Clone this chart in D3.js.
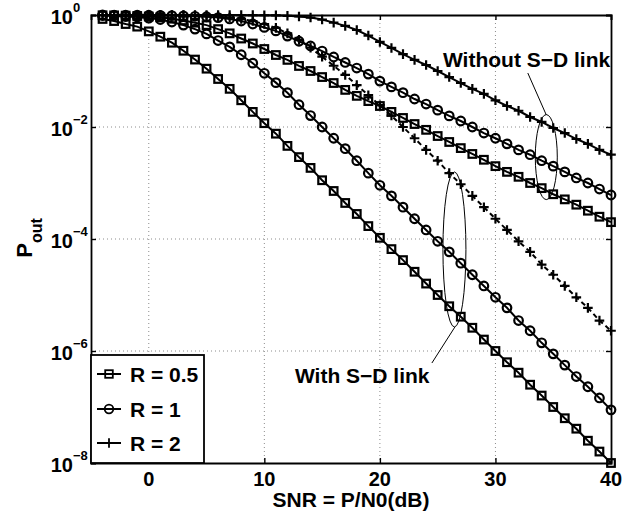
<!DOCTYPE html>
<html>
<head>
<meta charset="utf-8">
<script src="https://cdn.jsdelivr.net/npm/d3@7"></script>
<style>
  body { margin: 0; background: #fff; }
  svg text { font-family: "Liberation Sans", Arial, Helvetica, sans-serif; font-weight: bold; fill: #000; }
</style>
</head>
<body>
<svg></svg>
<script>
// SNR points (dB), one marker per dB
let snrDb = [-4, -3, -2, -1, 0, 1, 2, 3, 4, 5, 6, 7, 8, 9, 10, 11, 12, 13, 14, 15, 16, 17, 18, 19, 20,
    21, 22, 23, 24, 25, 26, 27, 28, 29, 30, 31, 32, 33, 34, 35, 36, 37, 38, 39, 40]

// outage probability, without S-D link (solid)
let noLinkR05 = [0.99, 0.985, 0.975, 0.96, 0.94, 0.91, 0.86, 0.80, 0.73, 0.66, 0.56, 0.47, 0.38, 0.31, 0.247,
    0.193, 0.158, 0.123, 0.100, 0.078, 0.061, 0.046, 0.036, 0.029, 0.0237, 0.0186, 0.0145, 0.0113, 8.9e-3,
    6.9e-3, 5.4e-3, 4.2e-3, 3.3e-3, 2.6e-3, 2.0e-3, 1.58e-3, 1.29e-3, 1.0e-3, 8.1e-4, 6.3e-4, 5.1e-4,
    4.1e-4, 3.2e-4, 2.5e-4, 2.0e-4]
let noLinkR1 = [0.999, 0.998, 0.997, 0.996, 0.992, 0.985, 0.975, 0.962, 0.948, 0.93, 0.90, 0.85, 0.78, 0.69,
    0.60, 0.52, 0.42, 0.34, 0.28, 0.227, 0.178, 0.142, 0.113, 0.088, 0.066, 0.052, 0.041, 0.0316, 0.0257,
    0.020, 0.0158, 0.0128, 0.010, 7.8e-3, 6.3e-3, 5.0e-3, 3.9e-3, 3.2e-3, 2.5e-3, 2.0e-3, 1.58e-3, 1.23e-3,
    1.0e-3, 7.8e-4, 6.1e-4]
let noLinkR2 = [1.0, 1.0, 1.0, 1.0, 1.0, 1.0, 1.0, 1.0, 1.0, 0.999, 0.999, 0.998, 0.996, 0.993, 0.99, 0.985,
    0.968, 0.94, 0.90, 0.83, 0.73, 0.64, 0.54, 0.43, 0.33, 0.258, 0.20, 0.158, 0.128, 0.100, 0.078, 0.061,
    0.048, 0.039, 0.030, 0.0237, 0.0195, 0.0151, 0.0123, 9.6e-3, 7.8e-3, 6.1e-3, 5.0e-3, 3.9e-3, 3.2e-3]

// outage probability, with S-D link
let linkR05 = [0.85, 0.78, 0.69, 0.62, 0.51, 0.41, 0.32, 0.23, 0.16, 0.11, 0.072, 0.048, 0.030, 0.0186, 0.0117,
    7.6e-3, 4.6e-3, 2.9e-3, 1.86e-3, 1.12e-3, 7.2e-4, 4.4e-4, 2.8e-4, 1.7e-4, 1.05e-4, 6.6e-5, 4.2e-5, 2.6e-5,
    1.6e-5, 1.0e-5, 6.3e-6, 4.1e-6, 2.6e-6, 1.6e-6, 1.0e-6, 6.3e-7, 4.1e-7, 2.5e-7, 1.6e-7, 1.0e-7, 6.3e-8,
    4.1e-8, 2.5e-8, 1.6e-8, 1.0e-8]
let linkR1 = [0.98, 0.97, 0.94, 0.92, 0.88, 0.83, 0.75, 0.66, 0.56, 0.46, 0.35, 0.27, 0.195, 0.138, 0.091, 0.062,
    0.041, 0.025, 0.016, 0.010, 6.3e-3, 4.1e-3, 2.5e-3, 1.5e-3, 9.1e-4, 5.9e-4, 3.7e-4, 2.3e-4, 1.45e-4, 9.1e-5,
    5.9e-5, 3.7e-5, 2.3e-5, 1.45e-5, 9.1e-6, 5.9e-6, 3.5e-6, 2.3e-6, 1.4e-6, 8.9e-7, 5.6e-7, 3.5e-7, 2.3e-7,
    1.45e-7, 8.9e-8]
let linkR2 = [1.0, 1.0, 0.999, 0.998, 0.996, 0.993, 0.989, 0.983, 0.973, 0.957, 0.934, 0.90, 0.85, 0.78, 0.69,
    0.59, 0.47, 0.36, 0.26, 0.18, 0.124, 0.085, 0.056, 0.037, 0.0245, 0.016, 0.010, 6.3e-3, 3.9e-3, 2.5e-3,
    1.5e-3, 9.5e-4, 5.9e-4, 3.7e-4, 2.3e-4, 1.45e-4, 9.1e-5, 5.9e-5, 3.5e-5, 2.3e-5, 1.45e-5, 9.1e-6, 5.9e-6,
    3.5e-6, 2.3e-6]

let xTicks = [0, 10, 20, 30, 40]
let yTickExps = [0, -2, -4, -6, -8]
let legendLabels = ["R = 0.5", "R = 1", "R = 2"]
let markerTypes = ["square", "circle", "plus"]

let width = 641
let height = 514
let plotLeft = 91, plotRight = 611, plotTop = 15, plotBottom = 463

let svg = d3.select("svg").attr("width", width).attr("height", height)

let xScale = d3.scaleLinear().domain([-5, 40]).range([plotLeft, plotRight])
let yScale = d3.scaleLog().domain([1e-8, 1]).range([plotBottom, plotTop])

let series = [
    { p: noLinkR05, marker: "square", dash: null },
    { p: noLinkR1, marker: "circle", dash: null },
    { p: noLinkR2, marker: "plus", dash: null },
    { p: linkR05, marker: "square", dash: null },
    { p: linkR1, marker: "circle", dash: null },
    { p: linkR2, marker: "plus", dash: "5,3.5" }
]

let drawMarker = (g, type, x, y) => {
    if (type == "square") {
        g.append("rect").attr("x", x - 3.8).attr("y", y - 3.8).attr("width", 7.6).attr("height", 7.6)
    } else if (type == "circle") {
        g.append("circle").attr("cx", x).attr("cy", y).attr("r", 4.3)
    } else {
        g.append("path").attr("d", "M" + (x - 4.8) + "," + y + "H" + (x + 4.8) + "M" + x + "," + (y - 4.8) + "V" + (y + 4.8))
    }
}

let drawGrid = () => {
    let grid = svg.append("g").attr("stroke", "#8c8c8c").attr("stroke-width", 1).attr("stroke-dasharray", "1,3")
    xTicks.filter(t => t < 40).forEach(t => {
        grid.append("line").attr("x1", xScale(t)).attr("x2", xScale(t)).attr("y1", plotTop).attr("y2", plotBottom)
    })
    yTickExps.filter(e => e < 0 && e > -8).forEach(e => {
        grid.append("line").attr("x1", plotLeft).attr("x2", plotRight).attr("y1", yScale(Math.pow(10, e))).attr("y2", yScale(Math.pow(10, e)))
    })
}

let drawAxes = () => {
    let yVals = yTickExps.map(e => Math.pow(10, e))
    let axes = [
        svg.append("g").attr("transform", "translate(0," + plotBottom + ")").call(d3.axisBottom(xScale).tickValues(xTicks).tickSize(-5).tickFormat("")),
        svg.append("g").attr("transform", "translate(0," + plotTop + ")").call(d3.axisTop(xScale).tickValues(xTicks).tickSize(-5).tickFormat("")),
        svg.append("g").attr("transform", "translate(" + plotLeft + ",0)").call(d3.axisLeft(yScale).tickValues(yVals).tickSize(-5).tickFormat("")),
        svg.append("g").attr("transform", "translate(" + plotRight + ",0)").call(d3.axisRight(yScale).tickValues(yVals).tickSize(-5).tickFormat(""))
    ]
    axes.forEach(a => {
        a.select(".domain").attr("stroke", "#000").attr("stroke-width", 1.8)
        a.selectAll(".tick line").attr("stroke", "#000").attr("stroke-width", 1.4)
    })

    // x tick labels
    xTicks.forEach(t => {
        svg.append("text").attr("x", xScale(t)).attr("y", 486).attr("text-anchor", "middle")
            .style("font-size", "20px").text(t)
    })
    // y tick labels 10^e
    yTickExps.forEach(e => {
        let y = yScale(Math.pow(10, e))
        svg.append("text").attr("x", 73).attr("y", y + 9).attr("text-anchor", "end").style("font-size", "20px").text("10")
        svg.append("text").attr("x", 73).attr("y", y - 3).style("font-size", "13px").text(String(e).replace("-", "\u2212"))
    })

    svg.append("text").attr("x", (plotLeft + plotRight) / 2).attr("y", 507).attr("text-anchor", "middle")
        .style("font-size", "21px").text("SNR = P/N0(dB)")

    let yl = svg.append("text").attr("transform", "translate(32,238) rotate(-90)").attr("text-anchor", "middle")
    yl.append("tspan").style("font-size", "22px").text("P")
    yl.append("tspan").attr("dy", 10).style("font-size", "16px").text("out")
}

let drawSeries = () => {
    let line = d3.line().x((d, i) => xScale(snrDb[i])).y(d => yScale(d))
    series.forEach(s => {
        svg.append("path").datum(s.p).attr("d", line).attr("fill", "none").attr("stroke", "#000")
            .attr("stroke-width", 2).attr("stroke-dasharray", s.dash)
        let g = svg.append("g").attr("fill", "none").attr("stroke", "#000").attr("stroke-width", 2.2)
        s.p.forEach((v, i) => drawMarker(g, s.marker, xScale(snrDb[i]), yScale(v)))
    })
}

let drawAnnotations = () => {
    let g = svg.append("g").attr("fill", "none").attr("stroke", "#000").attr("stroke-width", 1)
    // ellipse round the curves without S-D link, at about 34 dB
    g.append("ellipse").attr("cx", xScale(34.4)).attr("cy", yScale(2.9e-3)).attr("rx", 11).attr("ry", 42.5)
    g.append("line").attr("x1", xScale(32.8)).attr("y1", yScale(0.092)).attr("x2", xScale(34.4)).attr("y2", yScale(0.0164))
    // ellipse round the curves with S-D link, at about 26.5 dB
    g.append("ellipse").attr("cx", xScale(26.45)).attr("cy", yScale(6.5e-5)).attr("rx", 11.5).attr("ry", 77.5)
    g.append("line").attr("x1", xScale(26.5)).attr("y1", yScale(2.7e-6)).attr("x2", xScale(24.5)).attr("y2", yScale(6.1e-7))

    svg.append("text").attr("x", xScale(25.46)).attr("y", yScale(0.118)).style("font-size", "21px").text("Without S\u2212D link")
    svg.append("text").attr("x", xScale(12.65)).attr("y", yScale(2.7e-7)).style("font-size", "21px").text("With S\u2212D link")
}

let drawLegend = () => {
    let lg = svg.append("g")
    lg.append("rect").attr("x", plotLeft).attr("y", 355).attr("width", 113).attr("height", plotBottom - 355)
        .attr("fill", "#fff").attr("stroke", "#000").attr("stroke-width", 1.8)
    let rowY = [374, 409, 443]
    legendLabels.forEach((label, i) => {
        lg.append("line").attr("x1", 97).attr("x2", 121).attr("y1", rowY[i]).attr("y2", rowY[i])
            .attr("stroke", "#000").attr("stroke-width", 2)
        let mg = lg.append("g").attr("fill", "none").attr("stroke", "#000").attr("stroke-width", 1.8)
        drawMarker(mg, markerTypes[i], 109, rowY[i])
        lg.append("text").attr("x", 130).attr("y", rowY[i] + 8).style("font-size", "21px").text(label)
    })
}

drawGrid()
drawSeries()
drawAxes()
drawAnnotations()
drawLegend()
</script>
</body>
</html>
